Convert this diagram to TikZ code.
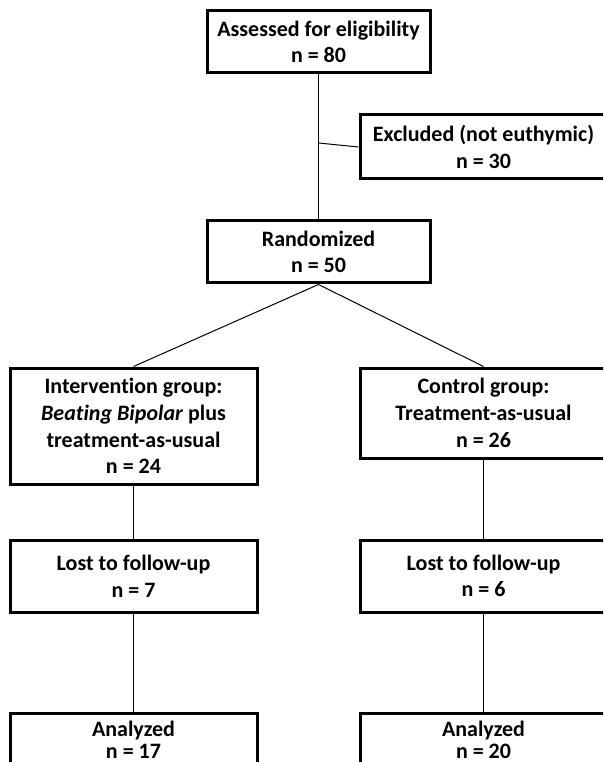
\documentclass[tikz,border=0pt]{standalone}
\usepackage{fontspec}
\setmainfont{Carlito}[Ligatures=NoCommon]
\usetikzlibrary{math}

\begin{document}
\begin{tikzpicture}[x=0.75pt,y=-0.75pt,
  stage/.style={draw,line width=2.25pt,align=center,inner sep=0pt,
    font=\fontsize{16.5pt}{20pt}\selectfont\bfseries,
    minimum width=185.25pt,minimum height=54pt},
  link/.style={line width=0.75pt}]
\tikzmath{
\xl=133.5;
\xr=483.5;
\xm=318.5;
}
\useasboundingbox (0,0) rectangle (603,762);
\clip (0,0) rectangle (603,762);

\node[stage,minimum width=167.25pt,minimum height=46.5pt] (assess) at (\xm,42) {Assessed for eligibility\\n = 80};
\node[stage,minimum height=48pt] (excl) at (\xr,147) {Excluded (not euthymic)\\n = 30};
\node[stage,minimum width=167.25pt,minimum height=46.5pt] (random) at (\xm,252) {Randomized\\n = 50};

\node[stage,minimum height=87pt] (interv) at (\xl,426) {Intervention group:\\\textit{Beating Bipolar} plus\\treatment-as-usual\\n = 24};
\node[stage,minimum height=67.5pt] (control) at (\xr,413) {Control group:\\Treatment-as-usual\\n = 26};

\node[stage] (lostI) at (\xl,576) {Lost to follow-up\\n = 7};
\node[stage] (lostC) at (\xr,576) {Lost to follow-up\\n = 6};

% bottom row is cut by the page edge
\node[stage,anchor=north,minimum height=0pt,inner ysep=6pt] (anaI) at (\xl,712) {Analyzed\\[-4pt]n = 17};
\node[stage,anchor=north,minimum height=0pt,inner ysep=6pt] (anaC) at (\xr,712) {Analyzed\\[-4pt]n = 20};

\coordinate (split) at (\xm,143);
\draw[link] (assess) -- (random);
\draw[link] (split) -- (excl.west);
\draw[link] (random.south) -- (interv.north);
\draw[link] (random.south) -- (control.north);

\draw[link] (interv) -- (lostI);
\draw[link] (lostI) -- (anaI);
\draw[link] (control) -- (lostC);
\draw[link] (lostC) -- (anaC);
\end{tikzpicture}
\end{document}
